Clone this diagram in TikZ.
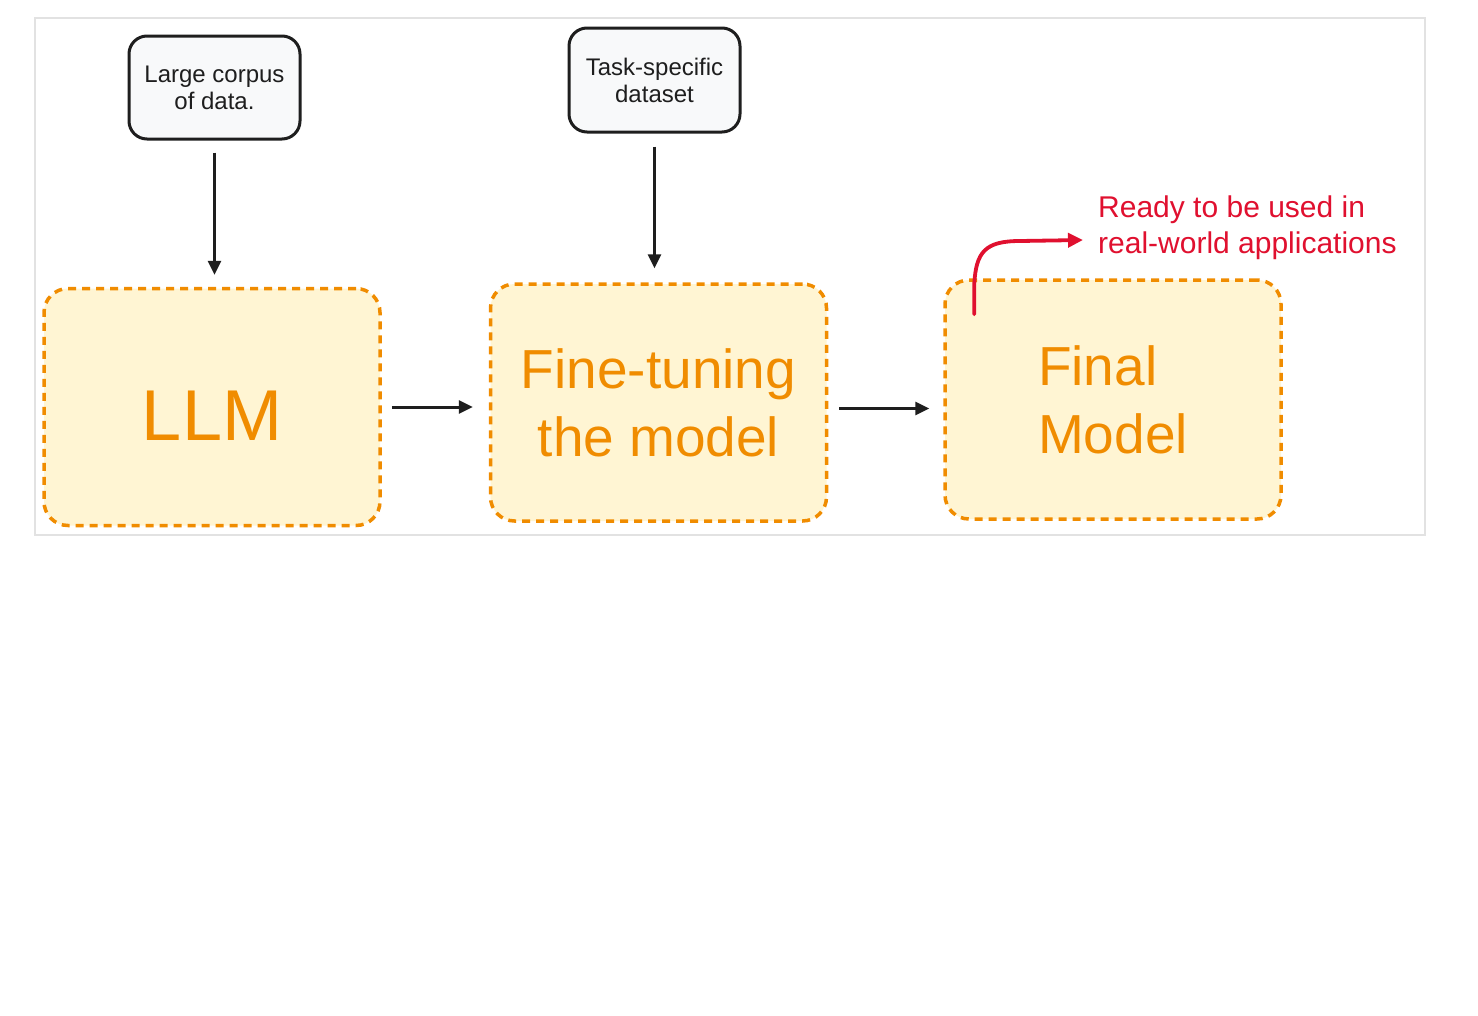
\documentclass[tikz,border=0pt]{standalone}
\usepackage{fontspec}
\setmainfont{Liberation Sans}
\usetikzlibrary{arrows.meta}
\definecolor{orng}{HTML}{F08C00}
\definecolor{yfill}{HTML}{FFF5D3}
\definecolor{gfill}{HTML}{F8F9FA}
\definecolor{frame}{HTML}{E2E2E2}
\definecolor{redc}{HTML}{E0102F}
\definecolor{ink}{HTML}{1E1E1E}
\tikzset{
  srcbox/.style={draw=ink, line width=3pt, fill=gfill, rounded corners=18pt,
    minimum width=171pt, minimum height=103pt, align=center, inner sep=2pt,
    font=\fontsize{24}{27}\selectfont, text=ink},
  bigbox/.style={draw=orng, line width=3.5pt, fill=yfill, rounded corners=24pt,
    dash pattern=on 8pt off 6pt, minimum width=336pt, minimum height=237pt,
    text=orng, inner sep=0pt},
  blackarrow/.style={draw=ink, line width=3pt, -{Triangle[length=14pt,width=13pt]}},
  redarrow/.style={draw=redc, line width=3.8pt, -{Triangle[length=15pt,width=14pt]}, line cap=round}
}
\begin{document}
\begin{tikzpicture}[x=1pt,y=-1pt]
\useasboundingbox[fill=white] (0,0) rectangle (1478,1015);
\draw[frame, line width=1.5pt] (35,18) rectangle (1425,535);

\node[srcbox] (b1) at (214.5,87.5) {Large corpus\\of data.};
\node[srcbox, minimum height=104pt] (b2) at (654.5,80) {Task-specific\\dataset};

\node[bigbox, font=\fontsize{72}{72}\selectfont, text height=66pt, text depth=0pt] (llm) at (212,407) {LLM};
\node[bigbox, align=center, font=\fontsize{55}{68}\selectfont] (ft) at (658.5,402.5) {Fine-tuning\\the model};
\node[bigbox, minimum height=239pt, align=left, font=\fontsize{55}{68}\selectfont] (fin) at (1113,399.5) {Final\\Model};

\draw[blackarrow, shorten <=12pt, shorten >=12pt] (b1.south) -- (b1.south |- llm.north);
\draw[blackarrow, shorten <=13pt, shorten >=14pt] (b2.south) -- (b2.south |- ft.north);
\draw[blackarrow, shorten <=10pt, shorten >=16pt] (llm.east) -- (llm.east -| ft.west);
\draw[blackarrow, shorten <=11pt, shorten >=14pt] ([yshift=-6pt]ft.east) -- ([yshift=-6pt]ft.east -| fin.west);

\coordinate (rs) at ([shift={(31,36)}]fin.north west);
\coordinate (re) at (1083,240);
\draw[redarrow] (rs) -- ++(0,-30) .. controls (976,252) and (985,241) .. (1020,241) -- (re);

\node[anchor=west, align=left, text=redc, inner sep=0pt, font=\fontsize{30}{36}\selectfont] (ready) at (1098,228) {Ready to be used in\\real-world applications};
\end{tikzpicture}
\end{document}
